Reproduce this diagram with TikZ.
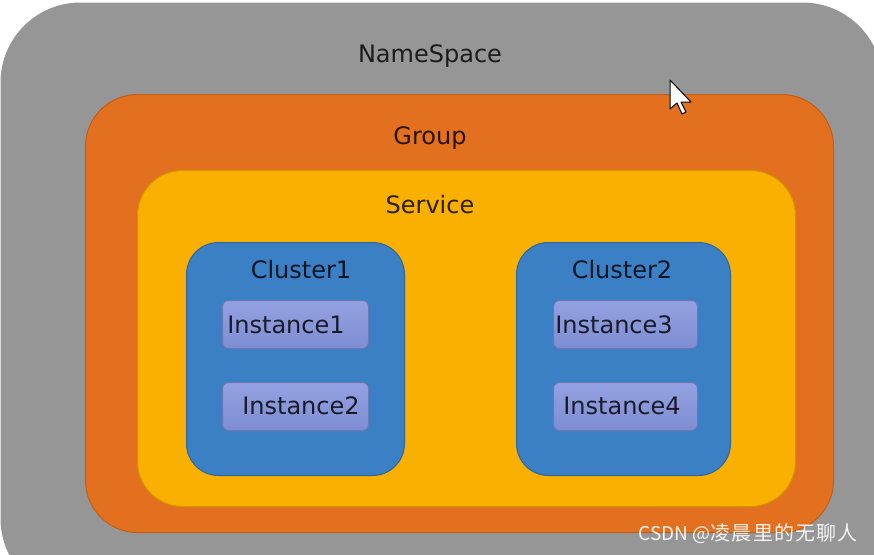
\documentclass[tikz,border=0pt]{standalone}
\usepackage{fontspec}
\setmainfont{DejaVu Sans}
\newfontfamily\cjk{Noto Sans CJK SC}

\definecolor{nsgray}{RGB}{150,150,150}
\definecolor{grouporange}{RGB}{226,112,30}
\definecolor{serviceyellow}{RGB}{249,176,0}
\definecolor{clusterblue}{RGB}{59,127,196}
\definecolor{insttop}{RGB}{148,161,226}
\definecolor{instbot}{RGB}{126,141,210}

\begin{document}
\begin{tikzpicture}[x=1pt, y=-1pt,
layer/.style = {rectangle, anchor=north west, inner sep=0pt, line width=1pt},
title/.style = {anchor=base, font=\fontsize{24}{29}\selectfont, text=black, text opacity=0.82},
inst/.style = {layer, rounded corners=6pt, draw=instbot!85!black, top color=insttop, bottom color=instbot, minimum height=48pt}]

\useasboundingbox (0,0) rectangle (874,554);

% nested boxes
\node[layer, fill=nsgray, rounded corners=80pt, minimum width=882pt, minimum height=596pt] (ns) at (0,2) {};
\node[layer, fill=grouporange, draw=grouporange!85!black, rounded corners=52pt, minimum width=748pt, minimum height=438pt] (group) at (85,94) {};
\node[layer, fill=serviceyellow, draw=serviceyellow!85!black, rounded corners=45pt, minimum width=658pt, minimum height=336pt] (service) at (137,170) {};
\node[layer, fill=clusterblue, draw=clusterblue!80!black, rounded corners=32pt, minimum width=218pt, minimum height=233pt] (cluster1) at (186,242) {};
\node[layer, fill=clusterblue, draw=clusterblue!80!black, rounded corners=32pt, minimum width=214pt, minimum height=233pt] (cluster2) at (516,242) {};

\node[inst, minimum width=146pt] (box1) at (222,300) {};
\node[inst, minimum width=146pt] (box2) at (222,382) {};
\node[inst, minimum width=144pt] (box3) at (553,300) {};
\node[inst, minimum width=144pt] (box4) at (553,382) {};

% labels
\node[title] (nslabel) at (430,62) {NameSpace};
\node[title] (grouplabel) at (430,144) {Group};
\node[title] (servicelabel) at (430,213) {Service};
\node[title] (c1label) at (301,278) {Cluster1};
\node[title] (c2label) at (622,278) {Cluster2};
\node[title] (inst1) at (286,333) {Instance1};
\node[title] (inst2) at (301,414) {Instance2};
\node[title] (inst3) at (614,333) {Instance3};
\node[title] (inst4) at (622,414) {Instance4};

% mouse pointer
\draw[fill=white, line width=1pt, line join=round] (670,80) -- ++(0,29) -- ++(7,-6) -- ++(5,11) -- ++(4,-2) -- ++(-5,-10) -- ++(10,0) -- cycle;

% watermark
\node[anchor=base east, inner sep=0pt, text=white, text opacity=0.9, font=\cjk\fontsize{19}{22}\selectfont] (mark) at (858,540) {CSDN @{\fontsize{20}{24}\selectfont\addfontfeature{LetterSpace=6}凌晨里的无聊人}};
\end{tikzpicture}
\end{document}
